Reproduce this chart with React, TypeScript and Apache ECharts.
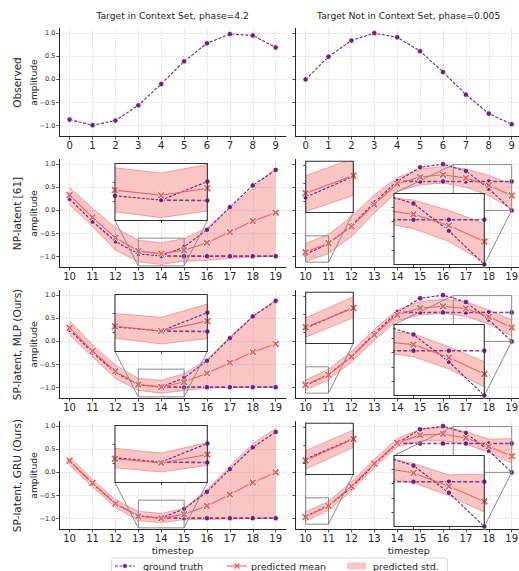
import { useEffect, useRef } from "react";
import * as echarts from "echarts";

const W = 519;
const H = 571;

// ---------- data ----------
const OBS_T = [0, 1, 2, 3, 4, 5, 6, 7, 8, 9];
const FUT_T = [10, 11, 12, 13, 14, 15, 16, 17, 18, 19];
const FLAT_T = [14, 15, 16, 17, 18, 19];

const OBS_LEFT = [-0.87, -0.99, -0.89, -0.56, -0.1, 0.39, 0.78, 0.98, 0.95, 0.69];
const OBS_RIGHT = [0.0, 0.49, 0.84, 1.0, 0.91, 0.61, 0.16, -0.33, -0.74, -0.97];

const GT_LEFT = [0.25, -0.24, -0.67, -0.94, -0.985, -0.79, -0.42, 0.07, 0.54, 0.875];
const GT_LEFT_FLAT = [-0.985, -0.99, -0.99, -0.99, -0.99, -0.99];
const GT_RIGHT = [-0.95, -0.72, -0.33, 0.17, 0.63, 0.93, 1.0, 0.85, 0.47, 0.0];
const GT_RIGHT_FLAT = [0.63, 0.625, 0.625, 0.625, 0.625, 0.625];

const NP_LEFT_MEAN = [0.33, -0.15, -0.59, -0.88, -0.935, -0.86, -0.7, -0.47, -0.23, -0.05];
const NP_LEFT_UPPER = [0.495, 0.05, -0.37, -0.645, -0.7, -0.61, -0.38, 0.05, 0.48, 0.92];
const NP_LEFT_LOWER = [0.12, -0.35, -0.86, -1.11, -1.17, -1.1, -1.08, -1.04, -1.01, -0.985];
const NP_RIGHT_MEAN = [-0.905, -0.71, -0.35, 0.13, 0.575, 0.72, 0.77, 0.7, 0.545, 0.32];
const NP_RIGHT_UPPER = [-0.71, -0.52, -0.13, 0.335, 0.71, 0.89, 0.95, 0.9, 0.755, 0.57];
const NP_RIGHT_LOWER = [-1.11, -0.93, -0.57, -0.06, 0.41, 0.55, 0.59, 0.5, 0.32, 0.03];

const MLP_LEFT_MEAN = [0.29, -0.21, -0.645, -0.935, -0.985, -0.88, -0.69, -0.46, -0.23, -0.055];
const MLP_LEFT_UPPER = [0.45, -0.075, -0.51, -0.8, -0.84, -0.7, -0.39, 0.1, 0.54, 0.9];
const MLP_LEFT_LOWER = [0.14, -0.34, -0.8, -1.06, -1.12, -1.065, -1.01, -1.0, -0.99, -0.99];
const MLP_RIGHT_MEAN = [-0.94, -0.725, -0.33, 0.14, 0.575, 0.72, 0.76, 0.71, 0.53, 0.3];
const MLP_RIGHT_UPPER = [-0.835, -0.6, -0.22, 0.26, 0.68, 0.86, 0.91, 0.86, 0.68, 0.47];
const MLP_RIGHT_LOWER = [-1.05, -0.835, -0.45, 0.02, 0.45, 0.57, 0.61, 0.54, 0.37, 0.12];

const GRU_LEFT_MEAN = [0.25, -0.23, -0.675, -0.95, -0.995, -0.905, -0.725, -0.48, -0.22, 0.0];
const GRU_LEFT_UPPER = [0.335, -0.155, -0.59, -0.84, -0.89, -0.78, -0.37, 0.13, 0.62, 0.95];
const GRU_LEFT_LOWER = [0.155, -0.315, -0.76, -1.045, -1.09, -1.02, -1.02, -1.01, -1.0, -0.99];
const GRU_RIGHT_MEAN = [-0.965, -0.725, -0.3, 0.19, 0.64, 0.805, 0.83, 0.745, 0.56, 0.35];
const GRU_RIGHT_UPPER = [-0.855, -0.625, -0.205, 0.28, 0.73, 0.93, 0.985, 0.88, 0.72, 0.73];
const GRU_RIGHT_LOWER = [-1.06, -0.82, -0.4, 0.105, 0.55, 0.68, 0.68, 0.61, 0.43, 0.2];

const ROW_LABELS = ["Observed", "NP-latent [61]", "SP-latent, MLP (Ours)", "SP-latent, GRU (Ours)"];
const TITLES = ["Target in Context Set, phase=4.2", "Target Not in Context Set, phase=0.005"];
const Y_LABEL = "amplitude";
const X_LABEL = "timestep";
const LEGEND_LABELS = ["ground truth", "predicted mean", "predicted std."];

const Y_TICKS = [-1, -0.5, 0, 0.5, 1];
const OBS_X_TICKS = OBS_T;
const FUT_X_TICKS = FUT_T;

// inset zoom windows
const INSET_LEFT_XLIM = [13, 15];
const INSET_LEFT_YLIM = [-1.2, -0.6];
const INSET_LEFT_XTICKS = [14];
const INSET_LEFT_YTICKS = [-1.0, -0.8];
const INSET_SMALL_XLIM = [10, 11];
const INSET_SMALL_YLIM = [-1.12, -0.55];
const INSET_SMALL_XTICKS: number[] = [];
const INSET_SMALL_YTICKS = [-1.0, -0.8, -0.6];
const INSET_BIG_XLIM = [16.45, 19];
const INSET_BIG_YLIM = [0, 0.99];
const INSET_BIG_XTICKS = [17, 18];
const INSET_BIG_YTICKS = [0.2, 0.4, 0.6, 0.8];

// ---------- style / layout ----------
const FONT = "DejaVu Sans";
const TEXT = "#262626";
const AXIS = "#262626";
const GT = "#721f81";
const MEAN = "#f1605d";
const BAND_FILL = "rgba(241,96,93,0.36)";
const BAND_EDGE = "rgba(241,96,93,0.5)";
const ZOOM_GRAY = "#8c8c8c";

const ROW_TOP = [28.5, 159.5, 290.5, 421.5];
const ROW_H = 108;
const COL_LEFT = [59.3, 295.3];
const COL_W = 226.7;
const Y_MIN = -1.235;
const Y_MAX = 1.1;

const X_SYMBOL =
  "path://M0,2.2L2.2,0L5,2.8L7.8,0L10,2.2L7.2,5L10,7.8L7.8,10L5,7.2L2.2,10L0,7.8L2.8,5Z";

const pairs = (t: number[], v: number[]) => t.map((x, i) => [x, v[i]]);
const fmt = (v: number) => (v < 0 ? "\u2212" + Math.abs(v).toFixed(1) : v.toFixed(1));

type Pred = { mean: number[]; upper: number[]; lower: number[] };
const PREDS: Pred[][] = [
  [
    { mean: NP_LEFT_MEAN, upper: NP_LEFT_UPPER, lower: NP_LEFT_LOWER },
    { mean: NP_RIGHT_MEAN, upper: NP_RIGHT_UPPER, lower: NP_RIGHT_LOWER },
  ],
  [
    { mean: MLP_LEFT_MEAN, upper: MLP_LEFT_UPPER, lower: MLP_LEFT_LOWER },
    { mean: MLP_RIGHT_MEAN, upper: MLP_RIGHT_UPPER, lower: MLP_RIGHT_LOWER },
  ],
  [
    { mean: GRU_LEFT_MEAN, upper: GRU_LEFT_UPPER, lower: GRU_LEFT_LOWER },
    { mean: GRU_RIGHT_MEAN, upper: GRU_RIGHT_UPPER, lower: GRU_RIGHT_LOWER },
  ],
];
const GTS = [
  { sine: GT_LEFT, flat: GT_LEFT_FLAT },
  { sine: GT_RIGHT, flat: GT_RIGHT_FLAT },
];

type InsetDef = {
  col: number;
  left: number;
  width: number;
  top: number;
  height: number;
  xlim: number[];
  ylim: number[];
  xticks: number[];
  yticks: number[];
  corners: string[];
};
const INSETS: InsetDef[] = [
  { col: 0, left: 115, width: 92.3, top: 4, height: 57, xlim: INSET_LEFT_XLIM, ylim: INSET_LEFT_YLIM, xticks: INSET_LEFT_XTICKS, yticks: INSET_LEFT_YTICKS, corners: ["bl", "br"] },
  { col: 1, left: 305.7, width: 47.6, top: 1.7, height: 51.3, xlim: INSET_SMALL_XLIM, ylim: INSET_SMALL_YLIM, xticks: INSET_SMALL_XTICKS, yticks: INSET_SMALL_YTICKS, corners: ["bl", "br"] },
  { col: 1, left: 394, width: 90.3, top: 34, height: 71, xlim: INSET_BIG_XLIM, ylim: INSET_BIG_YLIM, xticks: INSET_BIG_XTICKS, yticks: INSET_BIG_YTICKS, corners: ["tl", "br"] },
];

function gtSeries(ax: number, t: number[], v: number[], z: number, flat: boolean) {
  return {
    type: "line",
    xAxisIndex: ax,
    yAxisIndex: ax,
    data: pairs(t, v),
    symbol: "circle",
    symbolSize: 5.2,
    itemStyle: { color: GT, borderColor: "#fff", borderWidth: 0.6 },
    lineStyle: flat
      ? { color: GT, width: 1.6, type: [4, 2], opacity: 0.85 }
      : { color: GT, width: 1.1, type: [3, 1.6] },
    z,
    clip: true,
    silent: true,
  };
}

function bandSeries(ax: number, p: Pred, z: number) {
  return {
    type: "custom",
    xAxisIndex: ax,
    yAxisIndex: ax,
    data: FUT_T.map((t, i) => [t, p.lower[i], p.upper[i]]),
    encode: { x: 0, y: [1, 2] },
    clip: true,
    z,
    silent: true,
    renderItem: (params: any, api: any) => {
      if (params.dataIndex !== 0) return null;
      const up = FUT_T.map((t, i) => api.coord([t, p.upper[i]]));
      const lo = FUT_T.map((t, i) => api.coord([t, p.lower[i]]));
      return {
        type: "group",
        children: [
          {
            type: "polygon",
            shape: { points: up.concat(lo.slice().reverse()) },
            style: { fill: BAND_FILL, stroke: "none" },
          },
          { type: "polyline", shape: { points: up }, style: { stroke: BAND_EDGE, lineWidth: 1, fill: "none" } },
          { type: "polyline", shape: { points: lo }, style: { stroke: BAND_EDGE, lineWidth: 1, fill: "none" } },
        ],
      };
    },
  };
}

function meanSeries(ax: number, p: Pred, z: number) {
  return {
    type: "line",
    xAxisIndex: ax,
    yAxisIndex: ax,
    data: pairs(FUT_T, p.mean),
    symbol: X_SYMBOL,
    symbolSize: 8,
    itemStyle: { color: MEAN, borderColor: "#fff", borderWidth: 0.9 },
    lineStyle: { color: MEAN, width: 1.1 },
    z,
    clip: true,
    silent: true,
  };
}

function buildOption() {
  const grid: any[] = [];
  const xAxis: any[] = [];
  const yAxis: any[] = [];
  const series: any[] = [];

  for (let r = 0; r < 4; r++) {
    for (let c = 0; c < 2; c++) {
      const gi = grid.length;
      const obs = r === 0;
      const xt = obs ? OBS_X_TICKS : FUT_X_TICKS;
      grid.push({
        left: COL_LEFT[c],
        top: ROW_TOP[r],
        width: COL_W,
        height: ROW_H,
        show: false,
        containLabel: false,
        outerBoundsMode: "none",
      });
      xAxis.push({
        gridIndex: gi,
        type: "value",
        min: obs ? -0.45 : 9.55,
        max: obs ? 9.45 : 19.45,
        axisLine: { show: true, onZero: false, lineStyle: { color: AXIS, width: 1 } },
        axisTick: { show: true, length: 3, customValues: xt, lineStyle: { color: AXIS, width: 0.8 } },
        axisLabel: { show: true, customValues: xt, fontSize: 10, color: TEXT, margin: 3.5, fontFamily: FONT },
        splitLine: { show: true, customValues: xt, lineStyle: { color: "#d2d2d2", width: 0.8, type: [1.5, 1.5] } },
      });
      yAxis.push({
        gridIndex: gi,
        type: "value",
        min: Y_MIN,
        max: Y_MAX,
        axisLine: { show: true, onZero: false, lineStyle: { color: AXIS, width: 1 } },
        axisTick: { show: true, length: 3, customValues: Y_TICKS, lineStyle: { color: AXIS, width: 0.8 } },
        axisLabel: {
          show: c === 0,
          customValues: Y_TICKS,
          fontSize: 6.5,
          color: TEXT,
          margin: 4,
          fontFamily: FONT,
          formatter: (v: number) => fmt(v),
        },
        splitLine: { show: true, customValues: Y_TICKS, lineStyle: { color: "#d2d2d2", width: 0.8, type: [1.5, 1.5] } },
      });
      if (obs) {
        series.push(gtSeries(gi, OBS_T, c === 0 ? OBS_LEFT : OBS_RIGHT, 3, false));
      } else {
        const p = PREDS[r - 1][c];
        series.push(bandSeries(gi, p, 2));
        series.push(gtSeries(gi, FUT_T, GTS[c].sine, 3, false));
        series.push(gtSeries(gi, FLAT_T, GTS[c].flat, 3, true));
        series.push(meanSeries(gi, p, 4));
        for (const ins of INSETS) {
          if (ins.col !== c) continue;
          const [x0, x1] = ins.xlim;
          const [y0, y1] = ins.ylim;
          series.push({
            type: "line",
            xAxisIndex: gi,
            yAxisIndex: gi,
            data: [[x0, y0], [x1, y0], [x1, y1], [x0, y1], [x0, y0]],
            symbol: "none",
            lineStyle: { color: ZOOM_GRAY, width: 1 },
            z: 5,
            clip: false,
            silent: true,
          });
        }
      }
    }
  }

  // insets
  for (let r = 1; r < 4; r++) {
    for (const ins of INSETS) {
      const gi = grid.length;
      grid.push({
        left: ins.left,
        top: ROW_TOP[r] + ins.top,
        width: ins.width,
        height: ins.height,
        show: true,
        backgroundColor: "#ffffff",
        borderWidth: 0,
        z: 6,
        containLabel: false,
        outerBoundsMode: "none",
      });
      xAxis.push({
        gridIndex: gi,
        type: "value",
        min: ins.xlim[0],
        max: ins.xlim[1],
        z: 15,
        axisLine: { show: false, onZero: false },
        axisTick: { show: ins.xticks.length > 0, length: 2.5, customValues: ins.xticks, lineStyle: { color: AXIS, width: 0.8 } },
        axisLabel: { show: false, customValues: ins.xticks },
        splitLine: { show: false },
      });
      yAxis.push({
        gridIndex: gi,
        type: "value",
        min: ins.ylim[0],
        max: ins.ylim[1],
        z: 15,
        axisLine: { show: false, onZero: false },
        axisTick: { show: true, length: 2.5, customValues: ins.yticks, lineStyle: { color: AXIS, width: 0.8 } },
        axisLabel: { show: false, customValues: ins.yticks },
        splitLine: { show: false },
      });
      const p = PREDS[r - 1][ins.col];
      series.push(bandSeries(gi, p, 10));
      series.push(gtSeries(gi, FUT_T, GTS[ins.col].sine, 11, false));
      series.push(gtSeries(gi, FLAT_T, GTS[ins.col].flat, 11, true));
      series.push(meanSeries(gi, p, 12));
    }
  }

  return {
    animation: false,
    backgroundColor: "#ffffff",
    textStyle: { fontFamily: FONT },
    grid,
    xAxis,
    yAxis,
    series,
  };
}

function buildGraphics(chart: echarts.ECharts) {
  const els: any[] = [];
  const px = (gridIndex: number, pt: number[]) => chart.convertToPixel({ gridIndex } as any, pt) as unknown as number[];

  TITLES.forEach((t, c) => {
    els.push({
      type: "text",
      x: COL_LEFT[c] + COL_W / 2,
      y: 15,
      z: 50,
      style: { text: t, fontSize: 9.2, fontFamily: FONT, fill: TEXT, align: "center", verticalAlign: "middle" },
    });
  });
  ROW_LABELS.forEach((t, r) => {
    const cy = ROW_TOP[r] + ROW_H / 2;
    els.push({
      type: "text",
      x: 17,
      y: cy,
      rotation: Math.PI / 2,
      z: 50,
      style: { text: t, fontSize: 10.5, fontFamily: FONT, fill: TEXT, align: "center", verticalAlign: "middle" },
    });
    els.push({
      type: "text",
      x: 33.5,
      y: cy,
      rotation: Math.PI / 2,
      z: 50,
      style: { text: Y_LABEL, fontSize: 9.2, fontFamily: FONT, fill: TEXT, align: "center", verticalAlign: "middle" },
    });
  });
  [0, 1].forEach((c) => {
    els.push({
      type: "text",
      x: COL_LEFT[c] + COL_W / 2,
      y: 550,
      z: 50,
      style: { text: X_LABEL, fontSize: 9.5, fontFamily: FONT, fill: TEXT, align: "center", verticalAlign: "middle" },
    });
  });

  let gi = 8;
  for (let r = 1; r < 4; r++) {
    const mainIdx = [r * 2, r * 2 + 1];
    for (const ins of INSETS) {
      const [x0, x1] = ins.xlim;
      const [y0, y1] = ins.ylim;
      const corner = (k: string) => (k === "bl" ? [x0, y0] : k === "br" ? [x1, y0] : k === "tl" ? [x0, y1] : [x1, y1]);
      for (const k of ins.corners) {
        const a = px(mainIdx[ins.col], corner(k));
        const b = px(gi, corner(k));
        els.push({
          type: "line",
          z: 5,
          silent: true,
          shape: { x1: a[0], y1: a[1], x2: b[0], y2: b[1] },
          style: { stroke: ZOOM_GRAY, lineWidth: 1 },
        });
      }
      const tl = px(gi, [x0, y1]);
      const br = px(gi, [x1, y0]);
      els.push({
        type: "rect",
        z: 30,
        silent: true,
        shape: { x: tl[0], y: tl[1], width: br[0] - tl[0], height: br[1] - tl[1] },
        style: { fill: "none", stroke: "#333333", lineWidth: 1.1 },
      });
      gi++;
    }
  }

  const ly = 566;
  els.push({
    type: "rect",
    z: 40,
    shape: { x: 111.5, y: 558, width: 336, height: 22, r: 2 },
    style: { fill: "#ffffff", stroke: "#d0d0d0", lineWidth: 0.8 },
  });
  els.push({ type: "line", z: 41, shape: { x1: 115, y1: ly, x2: 135, y2: ly }, style: { stroke: GT, lineWidth: 1.1, lineDash: [3, 1.6] } });
  els.push({ type: "circle", z: 42, shape: { cx: 125, cy: ly, r: 2.4 }, style: { fill: GT, stroke: "#fff", lineWidth: 0.6 } });
  els.push({ type: "line", z: 41, shape: { x1: 227, y1: ly, x2: 247, y2: ly }, style: { stroke: MEAN, lineWidth: 1.1 } });
  els.push({ type: "line", z: 42, shape: { x1: 234.6, y1: ly - 2.4, x2: 239.4, y2: ly + 2.4 }, style: { stroke: MEAN, lineWidth: 1.4 } });
  els.push({ type: "line", z: 42, shape: { x1: 234.6, y1: ly + 2.4, x2: 239.4, y2: ly - 2.4 }, style: { stroke: MEAN, lineWidth: 1.4 } });
  els.push({ type: "rect", z: 41, shape: { x: 347, y: ly - 3.5, width: 19, height: 7 }, style: { fill: BAND_FILL } });
  const lx = [143, 251, 373];
  LEGEND_LABELS.forEach((t, i) => {
    els.push({
      type: "text",
      x: lx[i],
      y: ly,
      z: 42,
      style: { text: t, fontSize: 9.5, fontFamily: FONT, fill: TEXT, align: "left", verticalAlign: "middle" },
    });
  });

  return els;
}

export default function App() {
  const ref = useRef<HTMLDivElement>(null);
  useEffect(() => {
    const el = ref.current;
    if (!el) return;
    const chart = echarts.init(el, null, { renderer: "svg", width: W, height: H });
    chart.setOption(buildOption() as any);
    chart.setOption({ graphic: buildGraphics(chart) } as any);
    return () => chart.dispose();
  }, []);
  return (
    <div
      ref={ref}
      style={{ position: "absolute", left: 0, top: 0, width: W, height: H, background: "#fff" }}
    />
  );
}
